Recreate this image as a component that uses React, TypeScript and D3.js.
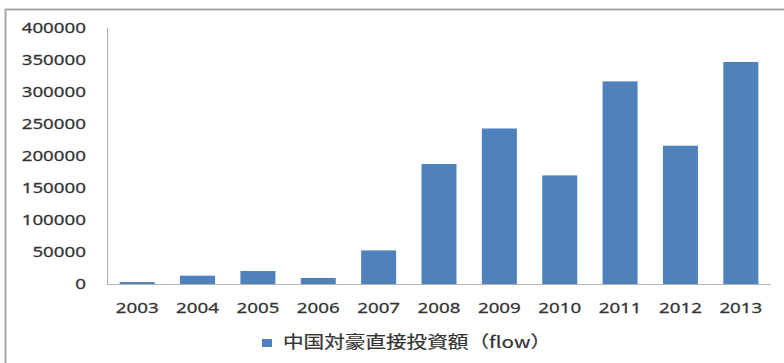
import React from "react";
import * as d3 from "d3";

const years = ["2003", "2004", "2005", "2006", "2007", "2008", "2009", "2010", "2011", "2012", "2013"];
const flowValues = [3000, 13000, 20300, 9400, 52500, 187500, 243000, 169700, 316600, 216100, 346900];
const yTicks = [0, 50000, 100000, 150000, 200000, 250000, 300000, 350000, 400000];
const seriesName = "中国対豪直接投資額（flow）";

const W = 784;
const H = 363;
const plot = { left: 107, right: 771, top: 28, bottom: 284 };
const barColor = "#4F81BD";
const textColor = "#333333";
const sx = 1.25;

export default function App() {
  const x = d3
    .scaleBand<string>()
    .domain(years)
    .range([plot.left, plot.right])
    .paddingInner(0.42)
    .paddingOuter(0.21);
  const y = d3.scaleLinear().domain([0, 400000]).range([plot.bottom, plot.top]);

  return (
    <svg
      width={W}
      height={H}
      style={{ position: "absolute", left: 0, top: 0, background: "#fff" }}
    >
      <rect x={0} y={0} width={W} height={H} fill="#fff" />
      {/* frame */}
      <path d={`M5.5,${H} V9.5 H${W}`} fill="none" stroke="#a8a8a8" strokeWidth={2} />

      {/* bars */}
      {years.map((yr, i) => (
        <rect
          key={yr}
          x={x(yr)!}
          y={y(flowValues[i])}
          width={x.bandwidth()}
          height={y(0) - y(flowValues[i])}
          fill={barColor}
        />
      ))}

      {/* axes */}
      <line x1={plot.left + 0.5} x2={plot.left + 0.5} y1={plot.top} y2={plot.bottom} stroke="#b4b4b4" strokeWidth={1.2} />
      <line x1={plot.left} x2={plot.right} y1={plot.bottom + 0.5} y2={plot.bottom + 0.5} stroke="#b4b4b4" strokeWidth={1.2} />

      {/* y tick labels */}
      {yTicks.map((t) => (
        <g key={t} transform={`translate(86,${y(t) + 5.3}) scale(${sx},1)`}>
          <text
            textAnchor="end"
            fontFamily="'Noto Sans', 'Open Sans', sans-serif"
            fontSize={15}
            fill={textColor}
            stroke={textColor}
            strokeWidth={0.25}
          >
            {t}
          </text>
        </g>
      ))}

      {/* x tick labels */}
      {years.map((yr) => (
        <g key={yr} transform={`translate(${x(yr)! + x.bandwidth() / 2},312.5) scale(${sx},1)`}>
          <text
            textAnchor="middle"
            fontFamily="'Noto Sans', 'Open Sans', sans-serif"
            fontSize={15}
            fill={textColor}
            stroke={textColor}
            strokeWidth={0.25}
          >
            {yr}
          </text>
        </g>
      ))}

      {/* legend */}
      <rect x={262} y={339} width={10} height={8} fill={barColor} />
      <g transform={`translate(283,348) scale(1.25,1)`}>
        <text
          fontFamily="'Noto Sans CJK JP', 'Noto Sans CJK SC', sans-serif"
          fontSize={16.5}
          fill={textColor}
          stroke={textColor}
          strokeWidth={0.2}
        >
          {seriesName}
        </text>
      </g>
    </svg>
  );
}
